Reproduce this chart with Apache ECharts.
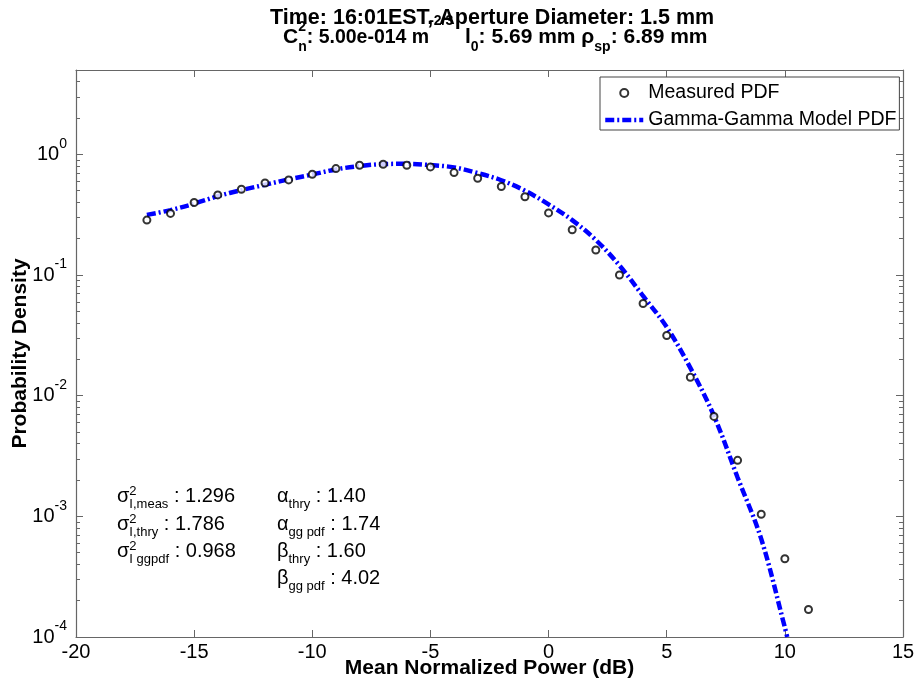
<!DOCTYPE html>
<html>
<head>
<meta charset="utf-8">
<script src="https://cdn.jsdelivr.net/npm/echarts@6/dist/echarts.min.js"></script>
<style>
  html, body { margin: 0; padding: 0; background: #fff; }
  #chart { width: 915px; height: 688px; }
</style>
</head>
<body>
<div id="chart"></div>
<script>
// measured PDF (circles)
const measuredX = [-17, -16, -15, -14, -13, -12, -11, -10, -9, -8, -7, -6, -5, -4, -3, -2, -1, 0, 1, 2, 3, 4, 5, 6, 7, 8, 9, 10, 11]
const measuredPdf = [0.285, 0.324, 0.399, 0.461, 0.514, 0.579, 0.614, 0.684, 0.762, 0.812, 0.828, 0.812, 0.787, 0.706, 0.634, 0.541, 0.445, 0.327, 0.237, 0.161, 0.100, 0.058, 0.0315, 0.0142, 0.00673, 0.00291, 0.00104, 0.000445, 0.000169]

// gamma-gamma model curve
const modelX = [-17, -16, -15, -14, -13, -12, -11, -10, -9, -8, -7, -6, -5, -4, -3, -2, -1, 0, 1, 2, 3, 4, 5, 6, 7, 8, 9, 10, 10.1]
const modelPdf = [0.315, 0.345, 0.39, 0.45, 0.505, 0.56, 0.62, 0.68, 0.75, 0.80, 0.83, 0.835, 0.815, 0.78, 0.70, 0.61, 0.50, 0.385, 0.285, 0.195, 0.12, 0.067, 0.037, 0.017, 0.0068, 0.0021, 0.00065, 0.00012, 0.0001]

const yDecades = [1e-4, 1e-3, 1e-2, 1e-1, 1]
const yMinor = [2e-4, 3e-4, 4e-4, 5e-4, 6e-4, 7e-4, 8e-4, 9e-4,
  2e-3, 3e-3, 4e-3, 5e-3, 6e-3, 7e-3, 8e-3, 9e-3,
  0.02, 0.03, 0.04, 0.05, 0.06, 0.07, 0.08, 0.09,
  0.2, 0.3, 0.4, 0.5, 0.6, 0.7, 0.8, 0.9,
  2, 3, 4, 5]

const FONT = '"Liberation Sans", Arial, sans-serif'
const AXIS_GRAY = '#666'

const chart = echarts.init(document.getElementById('chart'))

// lay out runs of text (with sub/superscripts) left to right
const measureCtx = document.createElement('canvas').getContext('2d')
function textRuns(x, baseline, parts) {
  const out = []
  let cx = x
  parts.forEach(p => {
    const [t, size, bold, dy, stack] = p
    const font = (bold ? 'bold ' : '') + size + 'px ' + FONT
    measureCtx.font = font
    const w = measureCtx.measureText(t).width
    out.push({
      type: 'text', z: 100, silent: true,
      style: {
        text: t, x: cx, y: baseline + (dy || 0) - 0.28 * size,
        font, fill: '#000', textAlign: 'left', textVerticalAlign: 'middle'
      }
    })
    if (!stack) cx += w
  })
  return out
}

const graphics = [].concat(
  textRuns(270, 24, [['Time: 16:01EST, Aperture Diameter: 1.5 mm', 21.5, true]]),
  textRuns(283, 43, [
    ['C', 21, true], ['2', 14, true, -12, true], ['n', 14, true, 8],
    [': 5.00e-014 m', 19.5, true], ['-2/3', 14, true, -18],
    ['  l', 21, true], ['0', 14, true, 8],
    [': 5.69 mm ', 21, true], ['\u03c1', 21, true], ['sp', 14, true, 8],
    [': 6.89 mm', 21, true]
  ]),
  textRuns(117, 502, [['\u03c3', 20], ['2', 13, false, -7, true], ['I,meas', 13, false, 6], [' : 1.296', 20]]),
  textRuns(117, 530, [['\u03c3', 20], ['2', 13, false, -7, true], ['I,thry', 13, false, 6], [' : 1.786', 20]]),
  textRuns(117, 557, [['\u03c3', 20], ['2', 13, false, -7, true], ['I ggpdf', 13, false, 6], [' : 0.968', 20]]),
  textRuns(277, 502, [['\u03b1', 20], ['thry', 13, false, 6], [' : 1.40', 20]]),
  textRuns(277, 530, [['\u03b1', 20], ['gg pdf', 13, false, 6], [' : 1.74', 20]]),
  textRuns(277, 557, [['\u03b2', 20], ['thry', 13, false, 6], [' : 1.60', 20]]),
  textRuns(277, 584, [['\u03b2', 20], ['gg pdf', 13, false, 6], [' : 4.02', 20]])
)

const tickStyle = { color: AXIS_GRAY, width: 1 }
const baseX = {
  type: 'value', min: -20, max: 15, interval: 5,
  axisLine: { show: true, onZero: false, lineStyle: { color: AXIS_GRAY, width: 1.2 } },
  axisTick: { show: true, inside: true, length: 7, lineStyle: tickStyle },
  splitLine: { show: false }
}
const baseY = {
  type: 'log', logBase: 10, min: 1e-4, max: 5,
  splitLine: { show: false }
}

const option = {
  backgroundColor: '#fff',
  animation: false,
  textStyle: { fontFamily: FONT },
  grid: { left: 76, right: 12, top: 70, bottom: 51, outerBoundsMode: 'none', containLabel: false },
  legend: {
    left: 600, top: 77, orient: 'vertical',
    itemWidth: 38, itemHeight: 8, itemGap: 7,
    padding: [6, 3, 0, 3],
    borderColor: '#444', borderWidth: 1, backgroundColor: '#fff',
    textStyle: { fontSize: 19.5, color: '#000', fontFamily: FONT },
    lineStyle: { width: 4.5 },
    data: [
      'Measured PDF',
      { name: 'Gamma-Gamma Model PDF', itemStyle: { color: 'transparent', borderWidth: 0, opacity: 0 } }
    ]
  },
  xAxis: [
    Object.assign({}, baseX, {
      position: 'bottom',
      name: 'Mean Normalized Power (dB)', nameLocation: 'middle', nameGap: 21, nameMoveOverlap: false,
      nameTextStyle: { fontSize: 21, fontWeight: 'bold', color: '#000', fontFamily: FONT, verticalAlign: 'top' },
      axisLabel: { fontSize: 20, color: '#000', margin: 5, fontFamily: FONT }
    }),
    Object.assign({}, baseX, { position: 'top', axisLabel: { show: false } })
  ],
  yAxis: [
    Object.assign({}, baseY, {
      position: 'left',
      name: 'Probability Density', nameLocation: 'middle', nameGap: 45, nameMoveOverlap: false,
      nameTextStyle: { fontSize: 21, fontWeight: 'bold', color: '#000', fontFamily: FONT },
      axisLine: { show: true, onZero: false, lineStyle: { color: AXIS_GRAY, width: 1.2 } },
      axisTick: { show: true, inside: true, length: 7, customValues: yDecades, lineStyle: tickStyle },
      axisLabel: {
        customValues: yDecades, margin: 9,
        formatter: v => '{b|10}{s|' + Math.round(Math.log10(v)) + '}',
        rich: {
          b: { fontSize: 20, lineHeight: 35, color: '#000', fontFamily: FONT },
          s: { fontSize: 14, lineHeight: 13, verticalAlign: 'top', color: '#000', fontFamily: FONT }
        }
      }
    }),
    Object.assign({}, baseY, {
      position: 'left',
      axisLine: { show: false, onZero: false },
      axisTick: { show: true, inside: true, length: 4, customValues: yMinor, lineStyle: tickStyle },
      axisLabel: { show: false }
    }),
    Object.assign({}, baseY, {
      position: 'right',
      axisLine: { show: true, onZero: false, lineStyle: { color: AXIS_GRAY, width: 1.2 } },
      axisTick: { show: true, inside: true, length: 7, customValues: yDecades, lineStyle: tickStyle },
      axisLabel: { show: false }
    }),
    Object.assign({}, baseY, {
      position: 'right',
      axisLine: { show: false, onZero: false },
      axisTick: { show: true, inside: true, length: 4, customValues: yMinor, lineStyle: tickStyle },
      axisLabel: { show: false }
    })
  ],
  series: [
    {
      name: 'Measured PDF',
      type: 'scatter',
      symbol: 'emptyCircle',
      symbolSize: 7,
      itemStyle: { color: '#000', borderWidth: 1.3 },
      data: measuredX.map((x, i) => [x, measuredPdf[i]]),
      z: 3
    },
    {
      name: 'Gamma-Gamma Model PDF',
      type: 'line',
      smooth: 0.35,
      showSymbol: false,
      symbol: 'none',
      lineStyle: { color: '#0000ff', width: 4.5, type: [9, 3, 2, 3] },
      itemStyle: { color: '#0000ff' },
      data: modelX.map((x, i) => [x, modelPdf[i]]),
      z: 2
    }
  ],
  graphic: graphics
}

chart.setOption(option)
</script>
</body>
</html>
